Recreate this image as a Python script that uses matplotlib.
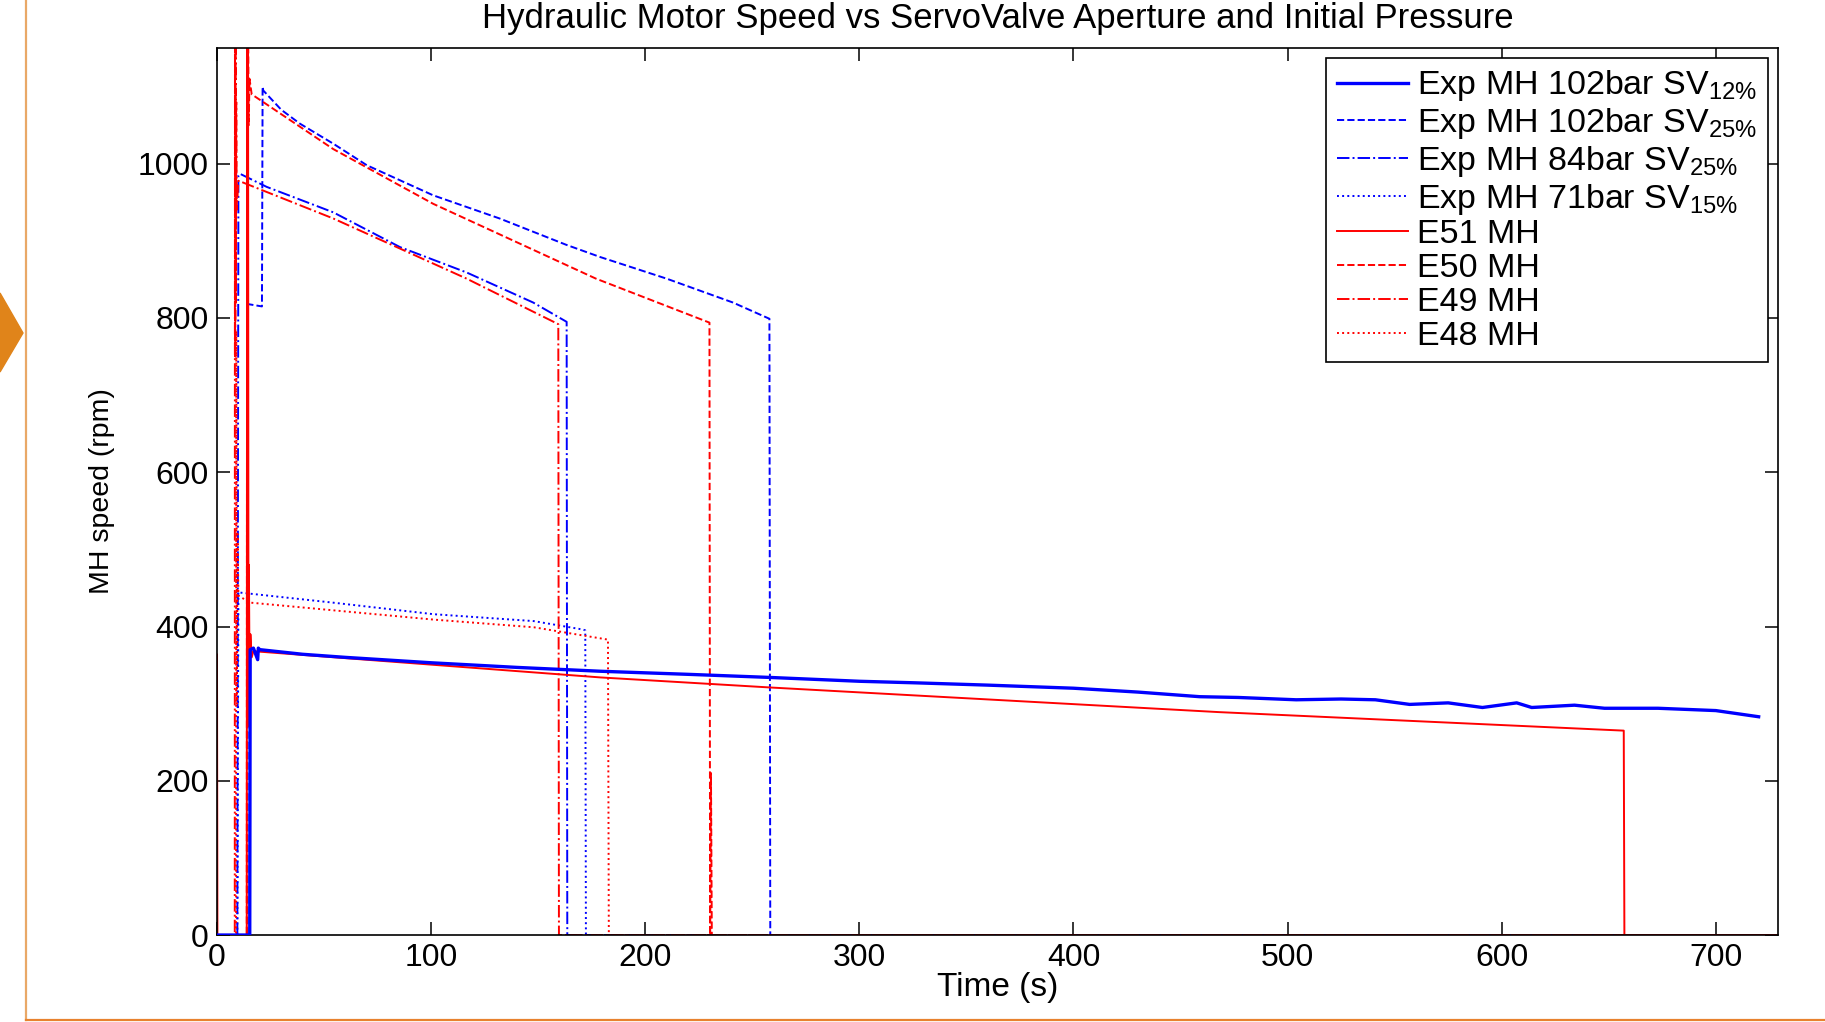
import matplotlib
matplotlib.use("Agg")
import matplotlib.pyplot as plt
from matplotlib.lines import Line2D
from matplotlib.patches import Polygon

plt.rcParams["font.family"] = ["Liberation Sans", "DejaVu Sans"]
plt.rcParams["mathtext.fontset"] = "custom"
plt.rcParams["mathtext.rm"] = "Liberation Sans"
plt.rcParams["mathtext.it"] = "Liberation Sans:italic"

# ── data (time in s, speed in rpm) ───
exp_102_12_t = [0, 15.3, 15.5, 17, 19, 19.3, 20, 40, 60, 100, 140, 179, 220, 258, 300,
                326, 360, 400, 430, 459, 477, 504, 525, 541, 557, 575, 591, 607, 614,
                634, 648, 673, 700, 720]
exp_102_12_v = [0, 0, 370, 372, 357, 372, 370, 364, 360, 353, 347, 342, 338, 334, 329,
                327, 324, 320, 315, 309, 308, 305, 306, 305, 299, 301, 295, 301, 295,
                298, 294, 294, 291, 283]

exp_102_25_t = [0, 14.2, 14.5, 21, 21.3, 21.6, 30, 38.7, 54.3, 70, 101, 132, 163, 179,
                210, 241, 258, 258.4, 729]
exp_102_25_v = [0, 0, 818, 815, 1100, 1095, 1070, 1052, 1026, 998, 959, 929, 895, 879,
                851, 820, 799, 0, 0]

exp_84_25_t = [0, 9.5, 10, 10.7, 23.2, 54.3, 85.4, 116.6, 147.7, 163.3, 163.6, 729]
exp_84_25_v = [0, 0, 985, 987, 970, 937, 892, 859, 820, 795, 0, 0]

exp_71_15_t = [0, 9.5, 10, 10.7, 54, 101, 148, 171, 172, 172.3, 729]
exp_71_15_v = [0, 0, 445, 444, 431, 416, 407, 396, 395, 0, 0]

e51_t = [0, 0, 0.2, 13.9, 14.1, 14.3, 14.5, 14.7, 14.9, 15.2, 15.6, 16.2, 17, 179, 258,
         468, 657, 657.3, 729]
e51_v = [0, 364, 0, 0, 1250, 270, 1200, 300, 480, 340, 390, 360, 368, 334, 321,
         289, 265, 0, 0]

e50_t = [0, 13.9, 14.1, 14.3, 14.5, 14.8, 15.2, 16.2, 54.3, 101, 177, 230, 230.3,
         230.7, 231.1, 729]
e50_v = [0, 0, 1250, 950, 1200, 1050, 1110, 1090, 1019, 948, 851, 794, 0,
         210, 0, 0]

e49_t = [0, 8.3, 8.4, 8.55, 8.7, 8.85, 9.0, 9.2, 10, 54.3, 116.6, 159.4, 159.7, 729]
e49_v = [0, 0, 1250, 750, 1200, 820, 1080, 940, 978, 929, 851, 792, 0, 0]

e48_t = [0, 8.9, 9.0, 9.3, 9.6, 10, 15.4, 101, 148, 182.6, 183, 729]
e48_v = [0, 0, 783, 300, 520, 440, 431, 409, 399, 383, 0, 0]

labels = [
    r"Exp MH 102bar SV$_{\mathregular{12\%}}$",
    r"Exp MH 102bar SV$_{\mathregular{25\%}}$",
    r"Exp MH 84bar SV$_{\mathregular{25\%}}$",
    r"Exp MH 71bar SV$_{\mathregular{15\%}}$",
    "E51 MH", "E50 MH", "E49 MH", "E48 MH",
]

# ── figure ──────────────────────────────────────────────────
fig = plt.figure(figsize=(18.25, 10.22), dpi=100)
ax = fig.add_axes([0.1189, 0.0851, 0.8553, 0.8679])

blue, red = "#0000ff", "#ff0000"
ax.plot(exp_102_12_t, exp_102_12_v, "-", color=blue, lw=2.4, label=labels[0], zorder=3)
ax.plot(exp_102_25_t, exp_102_25_v, "--", color=blue, lw=1.4, label=labels[1])
ax.plot(exp_84_25_t, exp_84_25_v, "-.", color=blue, lw=1.4, label=labels[2])
ax.plot(exp_71_15_t, exp_71_15_v, ":", color=blue, lw=1.4, label=labels[3])
ax.plot(e51_t, e51_v, "-", color=red, lw=1.4, label=labels[4])
ax.plot(e50_t, e50_v, "--", color=red, lw=1.4, label=labels[5])
ax.plot(e49_t, e49_v, "-.", color=red, lw=1.4, label=labels[6])
ax.plot(e48_t, e48_v, ":", color=red, lw=1.4, label=labels[7])

ax.set_xlim(0, 729)
ax.set_ylim(0, 1150)
ax.set_xticks(range(0, 701, 100))
ax.set_yticks(range(0, 1001, 200))
ax.tick_params(direction="in", length=9.5, width=1.1, top=True, right=True,
               labelsize=23, pad=6)
for sp in ax.spines.values():
    sp.set_linewidth(1.2)

ax.set_xlabel("Time (s)", fontsize=24)
ax.xaxis.label.set_va("center")
ax.xaxis.set_label_coords(0.5, -0.0586)
ax.set_ylabel("MH speed (rpm)", fontsize=20.5)
ax.yaxis.label.set_va("center")
ax.yaxis.set_label_coords(-0.0737, 0.5)

fig.text(0.5466, 0.982, "Hydraulic Motor Speed vs ServoValve Aperture and Initial Pressure",
         ha="center", va="center", fontsize=25)

leg = ax.legend(loc="upper right", fontsize=24.5, frameon=True, fancybox=False,
                edgecolor="black", framealpha=1, borderaxespad=0.3,
                handlelength=2.1, handletextpad=0.27, labelspacing=0.08,
                borderpad=0.3)
leg.get_frame().set_linewidth(1.2)

# ── slide decoration around the chart ───────────────────────
fig.add_artist(Line2D([26 / 1825, 26 / 1825], [1.0, 0.002], transform=fig.transFigure,
                      color="#e9a867", lw=1.6))
fig.add_artist(Line2D([26 / 1825, 1.0], [0.002, 0.002], transform=fig.transFigure,
                      color="#e8822e", lw=1.6))
fig.add_artist(Polygon([[0, 1 - 293 / 1022], [23 / 1825, 1 - 333 / 1022], [0, 1 - 372 / 1022]],
                       closed=True, transform=fig.transFigure, color="#e0841a"))

fig.savefig("out.png", dpi=100)
